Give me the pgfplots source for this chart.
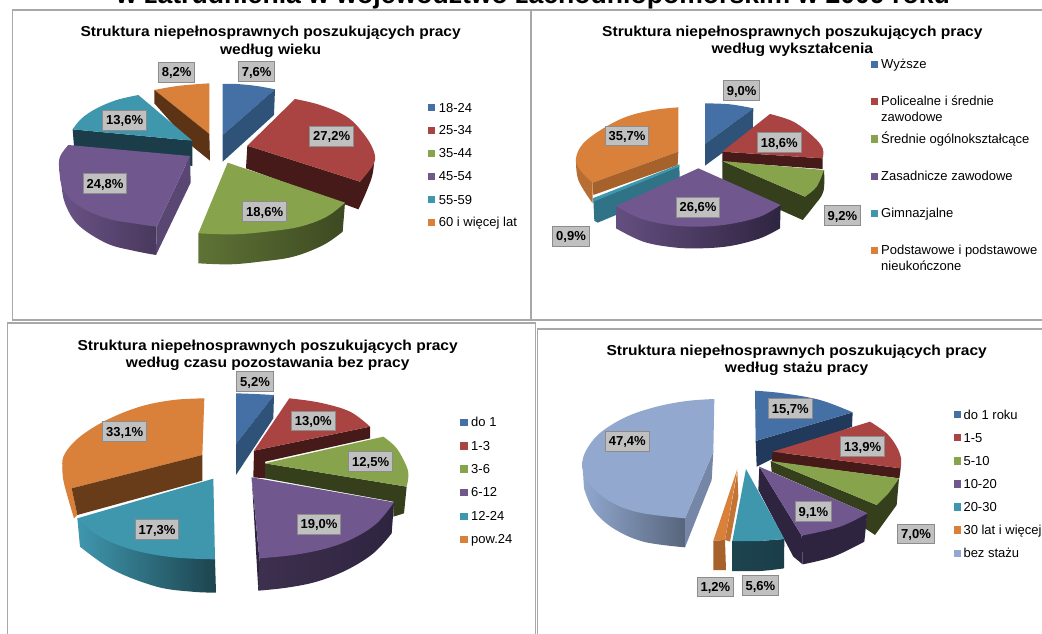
\documentclass[border=0pt]{standalone}
\usepackage{fontspec}
\setmainfont{Liberation Sans}
\usepackage{pgfplots}
\pgfplotsset{compat=1.18}
\definecolor{cB}{HTML}{4470A5}\definecolor{cR}{HTML}{A94442}\definecolor{cG}{HTML}{87A44D}
\definecolor{cP}{HTML}{70578E}\definecolor{cT}{HTML}{3F97AE}\definecolor{cO}{HTML}{D9813B}\definecolor{cL}{HTML}{92A8CF}
\definecolor{dB}{HTML}{2F5378}\definecolor{dB2}{HTML}{21395A}\definecolor{dR}{HTML}{451A18}\definecolor{dG}{HTML}{353F1C}
\definecolor{dP}{HTML}{2E2440}\definecolor{dT}{HTML}{1B3D4A}\definecolor{dO}{HTML}{5C3415}
\definecolor{labf}{HTML}{C0C0C0}\definecolor{labd}{HTML}{8C8C8C}\definecolor{frm}{HTML}{A8A8A8}
\newcommand\poly[2]{\addplot[draw=none,fill=#1] coordinates {#2} -- cycle;}
\newcommand\sarc[3]{\addplot[draw=none,fill=#1,smooth,tension=0.6] coordinates {#2} #3 -- cycle;}
\newcommand\grad[5]{\addplot[draw=none,left color=#1,middle color=#2,right color=#3,smooth,tension=0.6] coordinates {#4} #5 -- cycle;}
\newcommand\lab[3]{\node[fill=labf,draw=labd,line width=1pt,font=\fontsize{13}{14}\selectfont\bfseries,inner xsep=3.4pt,inner ysep=0pt,text height=11.5pt,text depth=2.5pt,minimum height=19.5pt] at (axis cs:#1,#2) {#3};}
\newcommand\ttl[3]{\node[font=\fontsize{14.4}{15}\selectfont\bfseries,inner sep=0pt,text height=13pt,text depth=2pt] at (axis cs:#1,#2) {\scalebox{1.08}[1]{#3}};}
\newcommand\leg[4]{\addplot[only marks,mark=square*,mark size=3.2pt,color=#4,mark options={solid,draw=#4,fill=#4,line width=0pt}] coordinates {(#1,#2)};}
\newcommand\ltx[3]{\node[anchor=west,font=\fontsize{13}{15}\selectfont,inner sep=0pt,text height=11.5pt,text depth=3pt] at (axis cs:#1,#2) {#3};}
\pgfplotsset{panel/.style={hide axis,scale only axis,clip=false,y dir=reverse,anchor=north west}}
\begin{document}
\begin{tikzpicture}
\useasboundingbox (0pt,0pt) rectangle (1042pt,633pt);
\fill[white] (0pt,0pt) rectangle (1042pt,633pt);
\clip (0pt,0pt) rectangle (1042pt,633pt);
\node[font=\fontsize{26.6}{28}\selectfont\bfseries,anchor=base,inner sep=0pt] at (533pt,629.5pt) {w zatrudnienia w województwo zachodniopomorskim w 2009 roku};
\draw[frm,line width=1.3pt] (12.5pt,623pt) rectangle (531pt,313pt);
\draw[frm,line width=1.3pt] (531.8pt,623pt) -- (1050pt,623pt) (531.8pt,623pt) -- (531.8pt,313pt) -- (1050pt,313pt);
\draw[frm,line width=1.3pt] (7.5pt,-5pt) -- (7.5pt,310pt) -- (535.5pt,310pt) -- (535.5pt,-5pt);
\draw[frm,line width=1.3pt] (537.5pt,-5pt) -- (537.5pt,304pt) -- (1050pt,304pt);
% ---------- panel 1
\begin{axis}[panel,at={(0pt,633pt)},width=530pt,height=325pt,xmin=0,xmax=1590,ymin=0,ymax=975]
\sarc{cB}{(668,252)(710,252)(770,258)(825,268)}{-- (668,405)}
\poly{dB}{(668,405)(825,268)(822,345)(668,485)}
\sarc{cO}{(462,270)(540,257)(628,250)}{-- (628,402)}
\poly{dO}{(463,270)(628,402)(630,482)(578,440)(463,310)}
\poly{dT}{(218,388)(577,422)(577,498)(222,440)}
\sarc{cT}{(415,285)(350,300)(290,325)(245,355)(218,388)}{-- (577,422)}
\grad{cP!95!black}{cP!85!black}{cP!65!black}{(178,500)(183,545)(195,610)(235,675)(320,730)(400,752)(468,765)}{-- (470,680)}
\poly{cP!80!black}{(570,468)(470,680)(468,765)(572,548)}
\sarc{cP}{(205,435)(180,470)(178,510)(190,570)(240,620)(320,655)(400,670)(470,680)}{-- (570,468)}
\poly{dR}{(742,437)(1080,545)(1095,580)(1075,628)(1040,615)(738,505)}
\sarc{dR}{(1122,490)(1116,530)(1095,585)(1075,628)}{-- (1080,545)}
\sarc{cR}{(885,297)(960,315)(1040,350)(1090,400)(1120,450)(1122,490)(1080,545)}{-- (742,437)}
\grad{cG!70!black}{dG}{dG!90!cG}{(1028,695)(970,735)(880,770)(780,785)(690,793)(595,790)}{-- (595,700) -- (1035,608)}
\sarc{cG}{(1035,608)(980,650)(900,680)(800,695)(700,703)(595,700)}{-- (683,488)}
\lab{770}{215}{7,6\%}\lab{530}{217}{8,2\%}\lab{995}{409}{27,2\%}\lab{374}{361}{13,6\%}\lab{315}{551}{24,8\%}\lab{794}{635}{18,6\%}
\ttl{812}{93}{Struktura niepełnosprawnych poszukujących pracy}
\ttl{812}{146}{według wieku}
\leg{1295}{322}{}{cB}\leg{1295}{391}{}{cR}\leg{1295}{460}{}{cG}\leg{1295}{529}{}{cP}\leg{1295}{598}{}{cT}\leg{1295}{667}{}{cO}
\ltx{1316}{324}{18-24}\ltx{1316}{392}{25-34}\ltx{1316}{461}{35-44}\ltx{1316}{530}{45-54}\ltx{1316}{600}{55-59}\ltx{1316}{668}{60 i więcej lat}
\end{axis}
% ---------- panel 2
\begin{axis}[panel,at={(530pt,633pt)},width=512pt,height=325pt,xmin=0,xmax=1536,ymin=0,ymax=975]
\sarc{cB}{(525,310)(600,313)(670,325)}{-- (525,432)}
\poly{dB}{(525,432)(670,325)(668,392)(525,497)}
\sarc{cO!85!black}{(138,475)(145,540)(188,610)}{-- (188,548)}
\sarc{cO}{(445,322)(370,330)(290,350)(220,385)(160,430)(138,475)(150,510)(188,548)}{-- (445,455)}
\poly{cO!60!dO}{(188,548)(445,455)(443,495)(190,585)}
\poly{cT!60!dT}{(190,600)(448,497)(450,565)(203,668)(193,662)}
\poly{cT}{(188,595)(448,493)(448,500)(190,605)}
\poly{dR}{(577,455)(878,475)(878,507)(577,485)}
\sarc{cR}{(720,342)(790,365)(850,410)(878,445)(878,475)}{-- (577,455)}
\poly{dG}{(577,483)(825,590)(848,610)(818,660)(740,625)(577,545)}
\sarc{dG}{(882,510)(880,575)(850,620)(818,660)}{-- (825,590)}
\sarc{cG}{(825,590)(860,560)(882,510)}{-- (577,483)}
\grad{cP!90!black}{dP!90!cP}{dP}{(750,685)(690,715)(600,738)(510,745)(430,742)(340,725)(258,685)}{-- (258,618) -- (752,615)}
\sarc{cP}{(258,618)(330,655)(420,675)(510,680)(600,672)(690,650)(752,615)}{-- (505,505)}
\lab{635}{272}{9,0\%}\lab{748}{428}{18,6\%}\lab{291}{408}{35,7\%}\lab{504}{622}{26,6\%}\lab{937}{647}{9,2\%}\lab{123}{709}{0,9\%}
\ttl{787}{93}{Struktura niepełnosprawnych poszukujących pracy}
\ttl{787}{144}{według wykształcenia}
\leg{1033}{193}{}{cB}\leg{1033}{305}{}{cR}\leg{1033}{417}{}{cG}\leg{1033}{529}{}{cP}\leg{1033}{640}{}{cT}\leg{1033}{752}{}{cO}
\ltx{1053}{193}{Wyższe}\ltx{1053}{305}{Policealne i średnie}\ltx{1053}{352}{zawodowe}\ltx{1053}{418}{Średnie ogólnokształcące}\ltx{1053}{529}{Zasadnicze zawodowe}\ltx{1053}{640}{Gimnazjalne}\ltx{1053}{752}{Podstawowe i podstawowe}\ltx{1053}{799}{nieukończone}
\end{axis}
% ---------- panel 3
\begin{axis}[panel,at={(0pt,313pt)},width=530pt,height=313pt,xmin=0,xmax=1590,ymin=0,ymax=939]
\sarc{cB}{(708,220)(765,222)(822,225)}{-- (708,372)}
\poly{dB}{(708,372)(822,225)(820,295)(708,465)}
\poly{dR}{(762,392)(1110,320)(1110,355)(795,425)(795,475)(760,472)}
\sarc{cR}{(868,235)(960,248)(1050,275)(1110,320)}{-- (762,392)}
\poly{dG}{(795,430)(1220,500)(1212,580)(1180,590)(1180,545)(795,475)}
\sarc{cG}{(1150,350)(1190,385)(1220,440)(1225,470)(1220,500)}{-- (795,430)}
\sarc{cO}{(187,440)(192,490)(222,595)}{-- (232,585) -- (215,505)}
\sarc{cO}{(613,235)(520,240)(420,260)(320,300)(240,350)(195,400)(187,440)(200,480)(215,505)}{-- (607,405)}
\poly{dO!90!cO}{(215,505)(607,405)(607,482)(232,585)}
\grad{cP!55!black}{dP}{dP}{(1175,640)(1120,700)(1040,750)(950,785)(860,803)(775,812)}{-- (778,715) -- (1182,547)}
\poly{dP}{(755,472)(778,715)(775,812)(758,520)}
\sarc{cP}{(1182,547)(1130,610)(1060,655)(980,685)(880,705)(778,715)}{-- (755,472)}
\grad{cT}{cT!65!black}{cT!45!black}{(240,680)(340,750)(470,800)(575,815)(648,818)}{-- (645,718) -- (232,595)}
\sarc{cT}{(232,595)(300,650)(400,690)(520,712)(645,718)}{-- (640,476)}
\lab{765}{185}{5,2\%}\lab{940}{303}{13,0\%}\lab{1112}{425}{12,5\%}\lab{374}{335}{33,1\%}\lab{471}{629}{17,3\%}\lab{957}{613}{19,0\%}
\ttl{803}{75}{Struktura niepełnosprawnych poszukujących pracy}
\ttl{803}{127}{według czasu pozostawania bez pracy}
\leg{1392}{307}{}{cB}\leg{1392}{378}{}{cR}\leg{1392}{447}{}{cG}\leg{1392}{518}{}{cP}\leg{1392}{589}{}{cT}\leg{1392}{659}{}{cO}
\ltx{1413}{307}{do 1}\ltx{1413}{379}{1-3}\ltx{1413}{448}{3-6}\ltx{1413}{518}{6-12}\ltx{1413}{590}{12-24}\ltx{1413}{659}{pow.24}
\end{axis}
% ---------- panel 4
\begin{axis}[panel,at={(530pt,308pt)},width=512pt,height=308pt,xmin=0,xmax=1536,ymin=0,ymax=924]
\grad{cL}{cL!75!black}{cL!60!black}{(162,490)(190,555)(250,610)(340,650)(465,667)}{-- (465,580) -- (157,410)}
\poly{cL!80!black}{(465,580)(550,380)(545,465)(465,667)}
\sarc{cL}{(553,222)(470,228)(380,245)(290,275)(215,320)(175,365)(157,410)(165,455)(200,500)(260,540)(340,565)(465,580)}{-- (550,380)}
\poly{dB2}{(677,348)(968,262)(966,305)(720,405)(680,425)}
\sarc{cB}{(675,197)(760,205)(870,225)(968,262)}{-- (677,348)}
\poly{dR}{(728,380)(1112,430)(1108,460)(725,410)}
\sarc{cR}{(1020,290)(1070,325)(1100,365)(1113,400)(1112,430)}{-- (728,380)}
\poly{dG}{(722,408)(1040,540)(1107,460)(1100,540)(1035,630)(1005,610)(1012,565)(725,440)}
\sarc{cG}{(1107,460)(1075,505)(1040,540)}{-- (722,408)}
\poly{dP}{(688,425)(815,632)(818,718)(790,695)(685,495)}
\sarc{dP}{(1003,650)(910,695)(818,718)}{-- (815,632) -- (1012,565)}
\sarc{cP}{(1012,565)(930,605)(815,632)}{-- (688,425)}
\grad{cT!45!black}{cT!45!black}{dT}{(762,730)(690,738)(606,738)}{-- (607,648) -- (690,648) -- (763,642)}
\poly{cT}{(648,432)(763,642)(690,648)(607,648)}
\poly{cO!90!black}{(622,440)(625,515)(600,650)(585,645)}
\poly{cO!60!dO}{(550,647)(585,645)(588,735)(550,735)}
\poly{cO}{(622,432)(585,645)(550,647)}
\lab{781}{251}{15,7\%}\lab{998}{365}{13,9\%}\lab{292}{349}{47,4\%}\lab{850}{560}{9,1\%}\lab{1158}{627}{7,0\%}\lab{691}{782}{5,6\%}\lab{556}{786}{1,2\%}
\ttl{800}{75}{Struktura niepełnosprawnych poszukujących pracy}
\ttl{800}{127}{według stażu pracy}
\leg{1283}{269}{}{cB}\leg{1283}{338}{}{cR}\leg{1283}{408}{}{cG}\leg{1283}{477}{}{cP}\leg{1283}{546}{}{cT}\leg{1283}{615}{}{cO}\leg{1283}{685}{}{cL}
\ltx{1300}{271}{do 1 roku}\ltx{1300}{340}{1-5}\ltx{1300}{409}{5-10}\ltx{1300}{477}{10-20}\ltx{1300}{547}{20-30}\ltx{1300}{616}{30 lat i więcej}\ltx{1300}{685}{bez stażu}
\end{axis}
\end{tikzpicture}
\end{document}
